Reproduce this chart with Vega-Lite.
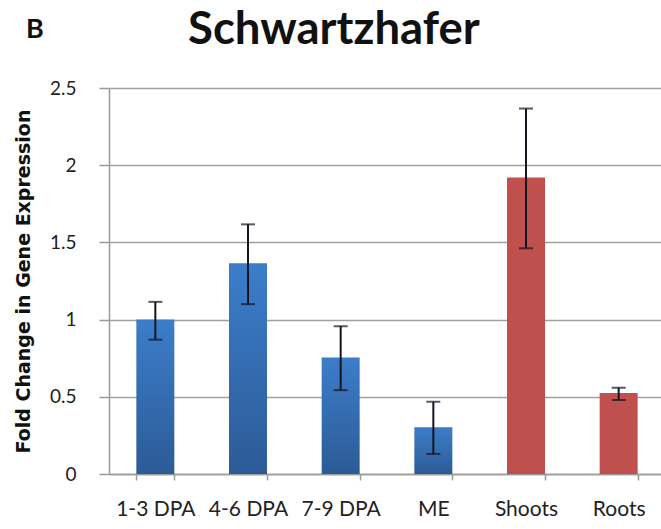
{
  "$schema": "https://vega.github.io/schema/vega-lite/v6.json",
  "autosize": {"type": "pad"},
  "padding": {"left": 14, "top": 8, "right": 0, "bottom": 5},
  "background": "white",
  "title": {
    "text": "B",
    "anchor": "start",
    "frame": "group",
    "font": "Lato",
    "fontSize": 27,
    "fontWeight": "bold",
    "color": "#111111",
    "baseline": "alphabetic",
    "dx": -83,
    "offset": -57
  },
  "data": {
    "values": [
      {"sample": "1-3 DPA", "tissue": "seed", "value": 1.0, "lo": 0.87, "hi": 1.115},
      {"sample": "4-6 DPA", "tissue": "seed", "value": 1.365, "lo": 1.1, "hi": 1.617},
      {"sample": "7-9 DPA", "tissue": "seed", "value": 0.755, "lo": 0.543, "hi": 0.957},
      {"sample": "ME", "tissue": "seed", "value": 0.302, "lo": 0.13, "hi": 0.468},
      {"sample": "Shoots", "tissue": "plant", "value": 1.92, "lo": 1.462, "hi": 2.367},
      {"sample": "Roots", "tissue": "plant", "value": 0.524, "lo": 0.48, "hi": 0.558}
    ]
  },
  "vconcat": [
    {
      "width": 556,
      "height": 386,
      "title": {
        "text": "Schwartzhafer",
        "anchor": "start",
        "frame": "group",
        "font": "Lato",
        "fontSize": 45.5,
        "fontWeight": "bold",
        "color": "#111111",
        "baseline": "alphabetic",
        "offset": -10.5,
        "dx": 79
      },
      "encoding": {
        "x": {
          "field": "sample",
          "type": "nominal",
          "sort": null,
          "scale": {
            "domain": ["1-3 DPA", "4-6 DPA", "7-9 DPA", "ME", "Shoots", "Roots"],
            "paddingInner": 0.59,
            "paddingOuter": 0.295
          },
          "axis": {
            "title": null,
            "labelAngle": 0,
            "tickBand": "extent",
            "tickSize": 6,
            "tickColor": "#9a9a9a",
            "tickWidth": 1.5,
            "domainColor": "#9a9a9a",
            "domainWidth": 1.5,
            "labelFont": "Lato",
            "labelFontSize": 21,
            "labelColor": "#222222",
            "labelPadding": 18
          }
        }
      },
      "layer": [
        {
          "transform": [{"filter": "datum.tissue === 'seed'"}],
          "mark": {
            "type": "bar",
            "color": {
              "gradient": "linear",
              "x1": 0, "y1": 0, "x2": 0, "y2": 1,
              "stops": [
                {"offset": 0, "color": "#3C7DCA"},
                {"offset": 1, "color": "#2C5B96"}
              ]
            }
          },
          "encoding": {
            "y": {
              "field": "value",
              "type": "quantitative",
              "title": "Fold Change in Gene Expression",
              "scale": {"domain": [0, 2.5], "nice": false},
              "axis": {
                "values": [0, 0.5, 1, 1.5, 2, 2.5],
                "format": "~g",
                "grid": true,
                "gridColor": "#a0a0a0",
                "gridWidth": 1.5,
                "domainColor": "#9a9a9a",
                "domainWidth": 1.5,
                "tickColor": "#9a9a9a",
                "tickWidth": 1.5,
                "tickSize": 10,
                "labelFont": "Lato",
                "labelFontSize": 19,
                "labelColor": "#222222",
                "labelPadding": 23,
                "titleFont": "DejaVu Sans",
                "titleFontSize": 19,
                "titleFontWeight": "bold",
                "titleColor": "#111111",
                "titlePadding": 16
              }
            }
          }
        },
        {
          "transform": [{"filter": "datum.tissue === 'plant'"}],
          "mark": {"type": "bar", "color": "#C0504D"},
          "encoding": {
            "y": {"field": "value", "type": "quantitative", "title": "Fold Change in Gene Expression"}
          }
        },
        {
          "mark": {
            "type": "errorbar",
            "color": "#141420",
            "ticks": {"size": 14, "thickness": 2},
            "rule": {"strokeWidth": 2}
          },
          "encoding": {
            "y": {"field": "lo", "type": "quantitative", "title": "Fold Change in Gene Expression"},
            "y2": {"field": "hi"}
          }
        }
      ]
    }
  ],
  "config": {
    "view": {"stroke": null}
  }
}
